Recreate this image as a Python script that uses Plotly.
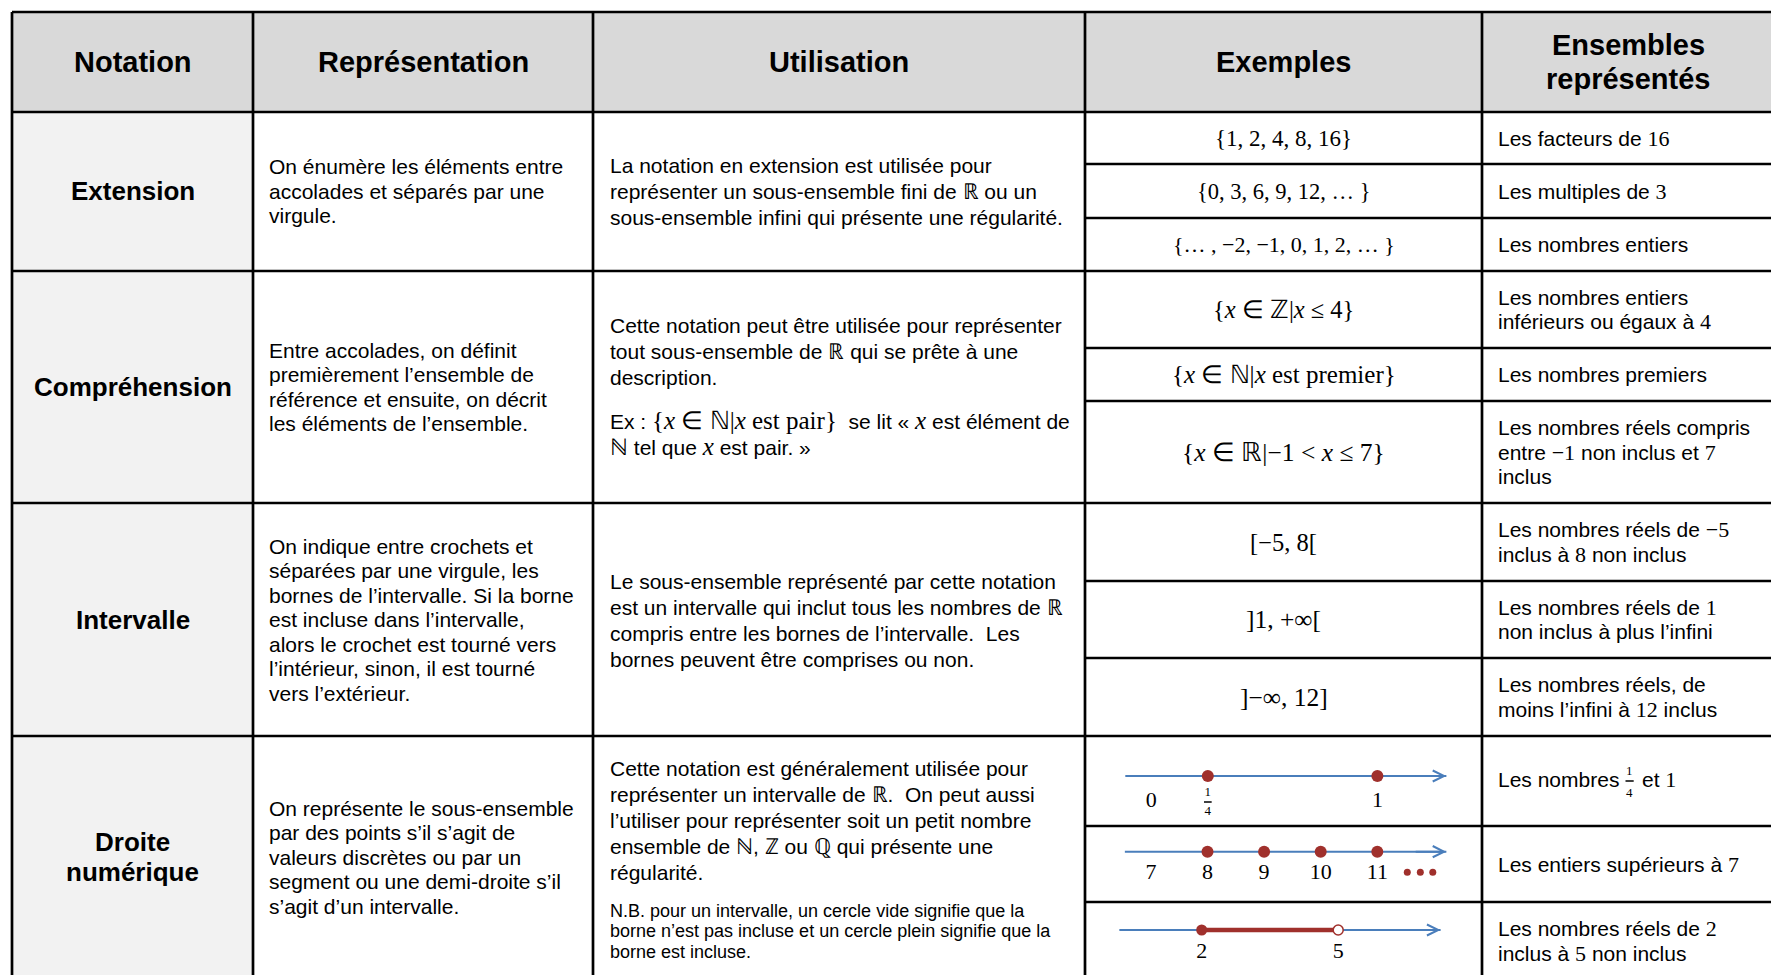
import plotly.graph_objects as go

W, H = 1771, 975
SANS = "Liberation Sans, Arial, sans-serif"
SERIF = "Liberation Serif, Times New Roman, serif"
BLUE = "#4a7ebb"
RED = "#a0302c"


def m(s, size=22):
    return f"<span style='font-family:Liberation Serif;font-size:{size}px'>{s}</span>"


X = "<i>x</i>"

# ---------------- data ----------------
col_headers = ["Notation", "Représentation", "Utilisation", "Exemples", "Ensembles<br>représentés"]
row_titles = ["Extension", "Compréhension", "Intervalle", "Droite<br>numérique"]

representation = [
    ["On énumère les éléments entre", "accolades et séparés par une", "virgule."],
    ["Entre accolades, on définit", "premièrement l’ensemble de", "référence et ensuite, on décrit",
     "les éléments de l’ensemble."],
    ["On indique entre crochets et", "séparées par une virgule, les", "bornes de l’intervalle. Si la borne",
     "est incluse dans l’intervalle,", "alors le crochet est tourné vers", "l’intérieur, sinon, il est tourné",
     "vers l’extérieur."],
    ["On représente le sous-ensemble", "par des points s’il s’agit de", "valeurs discrètes ou par un",
     "segment ou une demi-droite s’il", "s’agit d’un intervalle."],
]

utilisation = [
    [["La notation en extension est utilisée pour",
      "représenter un sous-ensemble fini de " + m("ℝ") + " ou un",
      "sous-ensemble infini qui présente une régularité."]],
    [["Cette notation peut être utilisée pour représenter",
      "tout sous-ensemble de " + m("ℝ") + " qui se prête à une",
      "description."],
     ["Ex : " + m("{" + X + " ∈ ℕ|" + X + " est pair}", 25) + "  se lit « " + m(X, 25) + " est élément de",
      m("ℕ", 23) + " tel que " + m(X, 25) + " est pair. »"]],
    [["Le sous-ensemble représenté par cette notation",
      "est un intervalle qui inclut tous les nombres de " + m("ℝ"),
      "compris entre les bornes de l’intervalle.  Les",
      "bornes peuvent être comprises ou non."]],
    [["Cette notation est généralement utilisée pour",
      "représenter un intervalle de " + m("ℝ") + ".  On peut aussi",
      "l’utiliser pour représenter soit un petit nombre",
      "ensemble de " + m("ℕ") + ", " + m("ℤ") + " ou " + m("ℚ") + " qui présente une",
      "régularité."],
     ["N.B. pour un intervalle, un cercle vide signifie que la",
      "borne n’est pas incluse et un cercle plein signifie que la",
      "borne est incluse."]],
]

exemples = [
    "{1, 2, 4, 8, 16}",
    "{0, 3, 6, 9, 12, … }",
    "{… , −2, −1, 0, 1, 2, … }",
    "{" + X + " ∈ ℤ|" + X + " ≤ 4}",
    "{" + X + " ∈ ℕ|" + X + " est premier}",
    "{" + X + " ∈ ℝ|−1 &lt; " + X + " ≤ 7}",
    "[−5, 8[",
    "]1, +∞[",
    "]−∞, 12]",
]

ensembles = [
    ["Les facteurs de " + m("16")],
    ["Les multiples de " + m("3")],
    ["Les nombres entiers"],
    ["Les nombres entiers", "inférieurs ou égaux à " + m("4")],
    ["Les nombres premiers"],
    ["Les nombres réels compris", "entre " + m("−1") + " non inclus et " + m("7"), "inclus"],
    ["Les nombres réels de " + m("−5"), "inclus à " + m("8") + " non inclus"],
    ["Les nombres réels de " + m("1"), "non inclus à plus l’infini"],
    ["Les nombres réels, de", "moins l’infini à " + m("12") + " inclus"],
    None,
    ["Les entiers supérieurs à " + m("7")],
    ["Les nombres réels de " + m("2"), "inclus à " + m("5") + " non inclus"],
]
ens_frac_before, ens_frac_num, ens_frac_den, ens_frac_after = "Les nombres", "1", "4", "et " + m("1")

# number lines (values)
nl1_line = [-0.115, 1.305]
nl1_dots = [0.25, 1]
nl1_label_vals = [0, 1]
nl1_label_txt = ["0", "1"]
nl1_frac_val = 0.25

nl2_line = [6.54, 12.22]
nl2_dots = [8, 9, 10, 11]
nl2_label_vals = [7, 8, 9, 10, 11]
nl2_label_txt = ["7", "8", "9", "10", "11"]
nl2_ellipsis = [11.53, 11.76, 11.98]

nl3_line = [0.19, 7.25]
nl3_closed = [2]
nl3_open = [5]
nl3_segment = [2, 5]
nl3_label_vals = [2, 5]
nl3_label_txt = ["2", "5"]

# ---------------- layout geometry ----------------
col_x = [12, 253, 593, 1085, 1482, W]
row_y = [12, 112, 271, 503, 736, H + 10]
sub_y = [164, 218, 348, 401, 581, 658, 826, 902]
ex_cy = [138, 191, 244.5, 309.5, 374.5, 452, 542, 619.5, 697, 779, 864, 941]
ex_size = [23, 22.5, 22, 24.5, 25, 25.5, 24.5, 25.5, 25.5]
row_cy = [191, 387, 619.5, 857]
rep_x, util_x, ens_x = 267, 608, 1496
util_cy = [[191], [351, 433], [620], [820, 931]]
util_size = [[21], [21, 21], [21], [21, 18]]
util_sp = [[26], [26, 26], [26], [26, 20.5]]

fig = go.Figure()
shapes = []
annotations = []

# fills
shapes.append(dict(type="rect", xref="x", yref="y", x0=col_x[0], x1=W + 5, y0=row_y[0], y1=row_y[1],
                   fillcolor="#d9d9d9", line=dict(width=0), layer="below"))
shapes.append(dict(type="rect", xref="x", yref="y", x0=col_x[0], x1=col_x[1], y0=row_y[1], y1=H + 10,
                   fillcolor="#f2f2f2", line=dict(width=0), layer="below"))

LW = 2.7
for x in col_x[:-1]:
    shapes.append(dict(type="line", xref="x", yref="y", x0=x, x1=x, y0=row_y[0], y1=H + 10,
                       line=dict(color="black", width=LW)))
for y in row_y[:-1]:
    shapes.append(dict(type="line", xref="x", yref="y", x0=col_x[0], x1=W + 5, y0=y, y1=y,
                       line=dict(color="black", width=LW)))
for y in sub_y:
    shapes.append(dict(type="line", xref="x", yref="y", x0=col_x[3], x1=W + 5, y0=y, y1=y,
                       line=dict(color="black", width=LW)))


def ann(x, y, text, size=21, xanchor="left", family=SANS):
    annotations.append(dict(x=x, y=y, xref="x", yref="y", text=text, showarrow=False,
                            xanchor=xanchor, yanchor="middle", align=xanchor if xanchor != "center" else "center",
                            font=dict(family=family, size=size, color="black")))


def lines_block(x, cy, lines, size, sp, xanchor="left", family=SANS):
    n = len(lines)
    for i, t in enumerate(lines):
        ann(x, cy + (i - (n - 1) / 2) * sp, t, size, xanchor, family)


# headers
for i, h in enumerate(col_headers):
    cx = (col_x[i] + col_x[i + 1]) / 2
    if i == 4:
        cx = 1628
    parts = h.split("<br>")
    lines_block(cx, 62, ["<b>" + p + "</b>" for p in parts], 29, 34, "center")

# row titles
for i, t in enumerate(row_titles):
    parts = t.split("<br>")
    lines_block((col_x[0] + col_x[1]) / 2, row_cy[i], ["<b>" + p + "</b>" for p in parts], 26, 30, "center")

# representation
for i, ls in enumerate(representation):
    lines_block(rep_x, row_cy[i], ls, 21, 24.5)

# utilisation
for i, paras in enumerate(utilisation):
    for j, ls in enumerate(paras):
        lines_block(util_x, util_cy[i][j], ls, util_size[i][j], util_sp[i][j])

# exemples
ex_cx = (col_x[3] + col_x[4]) / 2
for i, t in enumerate(exemples):
    ann(ex_cx, ex_cy[i], t, ex_size[i], "center", SERIF)

# ensembles
for i, ls in enumerate(ensembles):
    if ls is None:
        continue
    lines_block(ens_x, ex_cy[i], ls, 21, 24.5)
# fraction sentence
ann(ens_x, 779, ens_frac_before, 21)
ann(1629.6, 770, ens_frac_num, 13, "center", SERIF)
ann(1629.6, 792, ens_frac_den, 13, "center", SERIF)
shapes.append(dict(type="line", xref="x", yref="y", x0=1625.5, x1=1633.7, y0=781, y1=781,
                   line=dict(color="black", width=1.5)))
ann(1640, 779, ens_frac_after, 21)


# ---------------- number lines ----------------
def nl_axes(k, p0, v0, s, ypx):
    xd0, xd1 = 1092, 1478
    xr = [v0 + (xd0 - p0) / s, v0 + (xd1 - p0) / s]
    half = 45
    yd = [(H - (ypx + half)) / H, (H - (ypx - half)) / H]
    fig.update_layout(**{
        f"xaxis{k}": dict(domain=[xd0 / W, xd1 / W], range=xr, visible=False, fixedrange=True, anchor=f"y{k}"),
        f"yaxis{k}": dict(domain=yd, range=[half, -half], visible=False, fixedrange=True, anchor=f"x{k}"),
    })
    return f"x{k}", f"y{k}"


def draw_line(xa, ya, line):
    fig.add_trace(go.Scatter(x=line, y=[0, 0], mode="lines", line=dict(color=BLUE, width=2),
                             xaxis=xa, yaxis=ya, hoverinfo="skip", cliponaxis=False))
    annotations.append(dict(x=line[1], y=0, ax=line[1] - (line[1] - line[0]) * 0.1, ay=0,
                            xref=xa, yref=ya, axref=xa, ayref=ya, text="", showarrow=True,
                            arrowhead=5, arrowsize=1.1, arrowwidth=2, arrowcolor=BLUE))


def draw_labels(xa, ya, vals, txt, off):
    fig.add_trace(go.Scatter(x=vals, y=[off] * len(vals), mode="text", text=txt,
                             textfont=dict(family=SERIF, size=22, color="black"),
                             xaxis=xa, yaxis=ya, hoverinfo="skip", cliponaxis=False))


def draw_dots(xa, ya, vals, y=0, size=12, open_=False):
    fig.add_trace(go.Scatter(x=vals, y=[y] * len(vals), mode="markers",
                             marker=dict(size=size, color="white" if open_ else RED,
                                         line=dict(color=RED, width=1.5 if open_ else 0)),
                             xaxis=xa, yaxis=ya, hoverinfo="skip", cliponaxis=False))


# NL1
xa, ya = nl_axes(2, 1151.3, 0, 226.1, 776)
draw_line(xa, ya, nl1_line)
draw_dots(xa, ya, nl1_dots)
draw_labels(xa, ya, nl1_label_vals, nl1_label_txt, 25)
fig.add_trace(go.Scatter(x=[nl1_frac_val, nl1_frac_val], y=[17, 35.5], mode="text", text=["1", "4"],
                         textfont=dict(family=SERIF, size=13, color="black"),
                         xaxis=xa, yaxis=ya, hoverinfo="skip", cliponaxis=False))
fig.add_trace(go.Scatter(x=[nl1_frac_val - 0.017, nl1_frac_val + 0.017], y=[26, 26], mode="lines",
                         line=dict(color="black", width=1.5), xaxis=xa, yaxis=ya, hoverinfo="skip"))

# NL2
xa, ya = nl_axes(3, 1207.5, 8, 56.6, 851.7)
draw_line(xa, ya, nl2_line)
draw_dots(xa, ya, nl2_dots)
draw_labels(xa, ya, nl2_label_vals, nl2_label_txt, 22)
draw_dots(xa, ya, nl2_ellipsis, y=20.5, size=7)

# NL3
xa, ya = nl_axes(4, 1201.7, 2, 45.5, 930)
draw_line(xa, ya, nl3_line)
fig.add_trace(go.Scatter(x=nl3_segment, y=[0, 0], mode="lines", line=dict(color=RED, width=4.5),
                         xaxis=xa, yaxis=ya, hoverinfo="skip"))
draw_dots(xa, ya, nl3_closed, size=11)
draw_dots(xa, ya, nl3_open, size=10, open_=True)
draw_labels(xa, ya, nl3_label_vals, nl3_label_txt, 22)

fig.update_layout(
    width=W, height=H,
    margin=dict(l=0, r=0, t=0, b=0),
    paper_bgcolor="white", plot_bgcolor="rgba(0,0,0,0)",
    showlegend=False,
    xaxis=dict(range=[0, W], visible=False, fixedrange=True, domain=[0, 1]),
    yaxis=dict(range=[H, 0], visible=False, fixedrange=True, domain=[0, 1]),
    shapes=shapes, annotations=annotations,
)

fig.write_html("out.html", config={"displayModeBar": False},
               post_script="document.body.style.margin='0px';document.body.style.overflow='hidden';")
